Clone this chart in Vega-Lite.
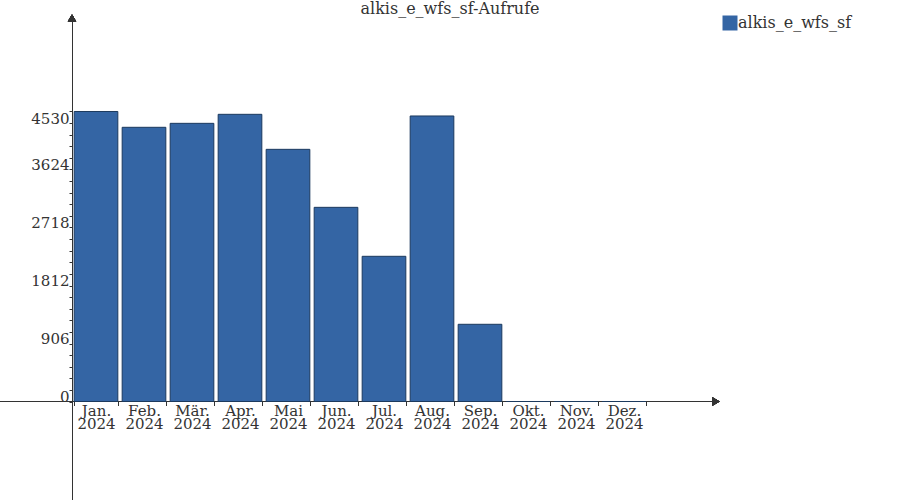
{
  "$schema": "https://vega.github.io/schema/vega-lite/v6.json",
  "width": 716,
  "height": 482,
  "autosize": {"type": "none"},
  "padding": {"left": 0, "top": 18, "right": 184, "bottom": 0},
  "background": "white",
  "config": {"view": {"stroke": null}, "font": "DejaVu Serif", "axis": {"labelOverlap": false}},
  "title": {"text": "alkis_e_wfs_sf-Aufrufe", "anchor": "middle", "frame": "group", "dx": 92, "dy": 3, "fontSize": 16, "fontWeight": "normal", "font": "DejaVu Serif", "color": "#333333", "baseline": "top", "offset": 0},
  "data": {"values": [
    {"month": "Jan. 2024", "value": 4530, "series": "alkis_e_wfs_sf"},
    {"month": "Feb. 2024", "value": 4283, "series": "alkis_e_wfs_sf"},
    {"month": "Mär. 2024", "value": 4345, "series": "alkis_e_wfs_sf"},
    {"month": "Apr. 2024", "value": 4486, "series": "alkis_e_wfs_sf"},
    {"month": "Mai 2024", "value": 3939, "series": "alkis_e_wfs_sf"},
    {"month": "Jun. 2024", "value": 3033, "series": "alkis_e_wfs_sf"},
    {"month": "Jul. 2024", "value": 2268, "series": "alkis_e_wfs_sf"},
    {"month": "Aug. 2024", "value": 4460, "series": "alkis_e_wfs_sf"},
    {"month": "Sep. 2024", "value": 1206, "series": "alkis_e_wfs_sf"},
    {"month": "Okt. 2024", "value": 0, "series": "alkis_e_wfs_sf"},
    {"month": "Nov. 2024", "value": 0, "series": "alkis_e_wfs_sf"},
    {"month": "Dez. 2024", "value": 0, "series": "alkis_e_wfs_sf"}
  ]},
  "resolve": {"axis": {"y": "independent"}},
  "layer": [
    {
      "mark": {"type": "rule", "color": "#333333", "strokeWidth": 1},
      "encoding": {"y": {"datum": 0, "type": "quantitative",
        "axis": {"orient": "left", "offset": -72, "zindex": 1, "title": null, "grid": false, "domain": false, "labels": false, "tickColor": "#333333", "tickSize": 3,
          "values": [181.2, 362.4, 543.6, 724.8, 1087.2, 1268.4, 1449.6, 1630.8, 1993.2, 2174.4, 2355.6, 2536.8, 2899.2, 3080.4, 3261.6, 3442.8, 3805.2, 3986.4, 4167.6, 4348.8]}}}
    },
    {
      "mark": {"type": "bar", "stroke": "#1c3a5e", "strokeWidth": 1},
      "encoding": {
        "x": {
          "field": "month", "type": "nominal",
          "scale": {"domain": ["Jan. 2024", "Feb. 2024", "Mär. 2024", "Apr. 2024", "Mai 2024", "Jun. 2024", "Jul. 2024", "Aug. 2024", "Sep. 2024", "Okt. 2024", "Nov. 2024", "Dez. 2024"], "range": [72, 648], "paddingInner": 0.09, "paddingOuter": 0.045},
          "axis": {"orient": "bottom", "offset": -98.5, "zindex": 1, "title": null, "domain": false, "tickColor": "#333333", "tickSize": 4, "tickBand": "extent", "labelAngle": 0, "labelFont": "DejaVu Serif", "labelFontSize": 15, "labelColor": "#333333", "labelBaseline": "top", "labelPadding": -2, "labelLineHeight": 12.5, "labelOverlap": false, "labelExpr": "split(datum.label, ' ')"}
        },
        "y": {
          "field": "value", "type": "quantitative",
          "scale": {"domain": [-1538.6, 5990.5], "nice": false, "zero": false},
          "axis": {"orient": "left", "offset": -72, "zindex": 1, "title": null, "grid": false, "domainColor": "#333333", "tickColor": "#333333", "tickSize": 3, "labelPadding": 0, "labelFont": "DejaVu Serif", "labelFontSize": 15, "labelColor": "#333333", "labelOverlap": false, "labelFlush": false,
            "values": [0, 906, 1812, 2718, 3624, 4530],
            "format": "d",
            "labelBaseline": {"condition": {"test": "datum.value > 4500", "value": "top"}, "value": "alphabetic"}}
        },
        "y2": {"datum": 0},
        "color": {
          "field": "series", "type": "nominal",
          "scale": {"range": ["#3465a4"]},
          "legend": {"orient": "none", "legendX": 722, "legendY": -3, "title": null, "symbolType": "square", "symbolSize": 225, "symbolStrokeWidth": 0, "symbolOpacity": 1, "labelFont": "DejaVu Serif", "labelFontSize": 16, "labelColor": "#333333", "labelOffset": 0, "padding": 0, "rowPadding": 0}
        }
      }
    },
    {
      "mark": {"type": "point", "shape": "triangle-up", "filled": true, "size": 70, "color": "#333333", "opacity": 1},
      "encoding": {
        "x": {"datum": "Jan. 2024", "type": "nominal", "bandPosition": -0.0497},
        "y": {"datum": 5990.5, "type": "quantitative", "axis": null}
      }
    },
    {
      "mark": {"type": "point", "shape": "triangle-right", "filled": true, "size": 70, "color": "#333333", "opacity": 1},
      "encoding": {
        "x": {"datum": "Dez. 2024", "type": "nominal", "bandPosition": 2.606},
        "y": {"datum": 0, "type": "quantitative", "axis": null}
      }
    }
  ]
}
